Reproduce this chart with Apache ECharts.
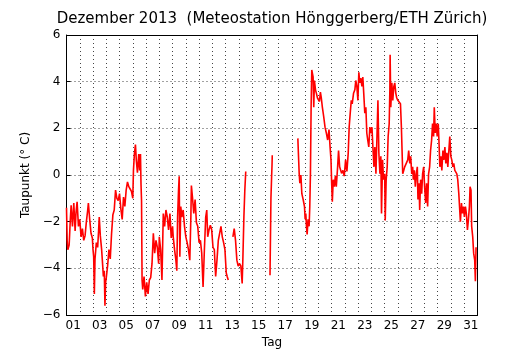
<!DOCTYPE html>
<html>
<head>
<meta charset="utf-8">
<script src="https://cdn.jsdelivr.net/npm/echarts@6/dist/echarts.min.js"></script>
<style>
  html, body { margin: 0; padding: 0; background: #fff; }
  #chart { width: 530px; height: 350px; }
</style>
</head>
<body>
<div id="chart"></div>
<script>
// Tage seit 1. Dezember 00:00 (Bruchteil = Tageszeit); null-Werte = Datenlücke
var tage = [
  0, 0.05, 0.1, 0.2, 0.28, 0.35, 0.45, 0.55, 0.65, 0.72, 0.8, 0.9,
  1.0, 1.1, 1.2, 1.3, 1.4, 1.5, 1.6, 1.65, 1.75, 1.85, 1.95,
  2.0, 2.05, 2.1, 2.15, 2.25, 2.35, 2.42, 2.47, 2.55, 2.65, 2.72, 2.78, 2.85, 2.9, 2.95,
  3.0, 3.1, 3.2, 3.3, 3.4, 3.5, 3.6, 3.7, 3.8, 3.9,
  4.0, 4.1, 4.2, 4.3, 4.4, 4.5, 4.6, 4.7, 4.8, 4.9,
  5.0, 5.05, 5.12, 5.2, 5.27, 5.35, 5.45, 5.52, 5.58, 5.62, 5.66, 5.7, 5.75, 5.85, 5.95,
  6.05, 6.15, 6.25, 6.35, 6.45, 6.55, 6.65, 6.75, 6.85, 6.95,
  7.0, 7.1, 7.2, 7.3, 7.4, 7.5, 7.6, 7.7, 7.8, 7.9,
  8.0, 8.05, 8.15, 8.25, 8.32, 8.38, 8.45, 8.5, 8.55, 8.62, 8.7, 8.8, 8.9,
  9.0, 9.1, 9.2, 9.3, 9.38, 9.42, 9.5, 9.6, 9.7, 9.8, 9.9,
  10.0, 10.1, 10.2, 10.3, 10.4, 10.5, 10.58, 10.65, 10.75, 10.85, 10.95,
  11.05, 11.15, 11.25, 11.35, 11.45, 11.55, 11.65, 11.75, 11.85, 11.95,
  12.05, 12.12, 12.2, 12.35,
  12.55, 12.65, 12.75, 12.85, 12.95, 13.05, 13.15, 13.25, 13.3, 13.38, 13.45, 13.52, 14.5,
  15.35, 15.42, 15.47, 15.5, 15.52, 16.5,
  17.45, 17.5, 17.55, 17.6, 17.68, 17.75, 17.85, 17.95,
  18.0, 18.05, 18.1, 18.15, 18.22, 18.3, 18.35, 18.4, 18.45, 18.5, 18.6, 18.65, 18.7, 18.78, 18.85, 18.93,
  19.0, 19.08, 19.15, 19.22, 19.3, 19.4, 19.5, 19.6, 19.7, 19.8, 19.88, 19.95,
  20.0, 20.05, 20.12, 20.2, 20.28, 20.35, 20.45, 20.52, 20.6, 20.68, 20.75, 20.85, 20.95,
  21.05, 21.15, 21.25, 21.32, 21.4, 21.48, 21.55, 21.65, 21.75, 21.82, 21.9, 21.98,
  22.05, 22.12, 22.2, 22.28, 22.35, 22.42, 22.5, 22.58, 22.65, 22.72, 22.8, 22.88, 22.96,
  23.04, 23.11, 23.19, 23.26, 23.34, 23.41, 23.49, 23.56, 23.64, 23.71, 23.76, 23.84, 23.91,
  24.0, 24.04, 24.11, 24.19, 24.26, 24.34, 24.39, 24.41, 24.46, 24.54, 24.61, 24.69, 24.76, 24.84, 24.91, 24.99,
  25.09, 25.19, 25.26, 25.31, 25.36, 25.44, 25.51, 25.59, 25.66, 25.74, 25.81, 25.89, 25.96,
  26.04, 26.11, 26.16, 26.24, 26.31, 26.39, 26.46, 26.51, 26.59, 26.64, 26.71, 26.79, 26.86, 26.94,
  27.01, 27.09, 27.16, 27.24, 27.31, 27.39, 27.46, 27.54, 27.61, 27.69, 27.74, 27.81, 27.89, 27.96,
  28.04, 28.09, 28.16, 28.24, 28.31, 28.39, 28.46, 28.54, 28.61, 28.69, 28.76, 28.84, 28.91, 28.99,
  29.06, 29.14, 29.21, 29.29, 29.36, 29.44, 29.51, 29.59, 29.66, 29.71, 29.79, 29.86, 29.94,
  30.01, 30.09, 30.16, 30.24, 30.31, 30.39, 30.44, 30.51, 30.56, 30.64, 30.71, 30.79, 30.84, 30.89
];

// Taupunkt in °C
var taupunkt = [
  -1.4, -2.8, -3.2, -3.0, -2.0, -1.3, -2.2, -1.2, -2.4, -1.6, -1.15, -2.2,
  -1.9, -2.65, -2.3, -2.8, -2.6, -2.0, -1.5, -1.2, -1.9, -2.5, -2.7,
  -3.2, -3.5, -5.1, -3.6, -2.9, -3.1, -2.4, -1.8, -2.6, -3.2, -3.8, -4.35, -4.1, -5.6, -4.6,
  -4.4, -3.9, -3.2, -3.6, -2.5, -1.7, -1.5, -0.65, -1.0, -1.1,
  -0.8, -1.45, -1.9, -0.95, -1.35, -0.65, -0.3, -0.5, -0.6, -0.7,
  -1.0, 0.2, 0.9, 1.3, 0.6, 0.1, 0.9, 0.2, 0.9, -0.4, -1.1, -4.5, -4.9, -4.35, -5.2,
  -4.6, -5.1, -4.5, -4.4, -3.8, -2.5, -3.35, -2.8, -3.1, -3.8,
  -2.65, -3.2, -4.5, -1.65, -2.2, -1.5, -1.8, -2.35, -1.65, -2.7,
  -2.2, -2.65, -3.2, -3.65, -4.1, -1.8, -0.65, -0.05, -3.5, -1.35, -1.8, -1.5, -2.2,
  -2.65, -2.9, -3.2, -3.65, -1.8, -0.45, -0.95, -1.65, -1.05, -2.05, -2.2,
  -2.9, -2.8, -3.35, -4.8, -3.2, -1.8, -1.5, -2.65, -2.35, -2.15, -2.35,
  -3.1, -3.2, -4.35, -3.65, -2.8, -2.5, -2.2, -2.65, -2.9, -3.2,
  -4.2, -4.35, -4.5, null,
  -2.65, -2.3, -2.8, -3.65, -3.9, -3.8, -3.9, -4.65, -3.65, -1.8, -0.65, 0.15, null,
  -4.3, -1.0, -0.1, 0.4, 0.85, null,
  1.57, 0.8, 0.07, -0.35, 0.0, -0.8, -1.05, -1.35,
  -1.9, -1.65, -2.2, -2.55, -1.9, -2.2, -1.35, 0.07, 2.9, 4.5, 4.2, 2.9, 4.05, 3.65, 3.5, 3.3,
  3.35, 3.15, 3.55, 3.3, 2.9, 2.5, 2.05, 1.8, 1.5, 1.95, 1.2, 0.65,
  -0.35, -1.15, -0.2, -0.5, -0.05, -0.5, 0.35, 1.05, 0.35, 0.4, 0.07, 0.2, -0.05,
  0.65, 0.15, 0.95, 2.05, 2.65, 3.2, 3.05, 3.5, 3.65, 4.05, 3.8, 3.2,
  4.4, 3.95, 4.15, 3.8, 4.2, 3.5, 2.65, 2.9, 1.8, 1.5, 1.2, 2.05, 1.8,
  2.05, 1.2, 0.35, 1.2, 0.05, 1.5, 3.2, 0.95, 0.05, 0.8, -1.65, 0.65, -0.2,
  0.05, -1.95, -0.2, 0.35, 1.65, 2.2, 3.65, 5.15, 2.9, 3.95, 3.2, 3.8, 3.95, 3.5, 3.3, 3.2,
  3.15, 3.05, 2.05, 1.05, 0.05, 0.2, 0.35, 0.3, 0.35, 0.65, 1.05, 0.5, 0.8,
  0.05, 0.35, -0.2, 0.2, -0.5, 0.05, 0.35, -1.05, -0.35, -1.5, -0.2, -0.8, 0.05, 0.35,
  -0.5, -1.2, -0.35, -1.35, 0.05, 0.35, 1.05, 1.5, 2.2, 1.65, 2.9, 1.8, 2.2, 1.65,
  2.2, 1.5, 0.35, 0.8, 0.2, 1.05, 0.65, 1.2, 0.5, 0.95, 0.35, 1.05, 1.65, 0.8,
  0.65, 0.35, 0.5, 0.2, 0.2, 0.05, -0.2, -0.8, -1.5, -2.0, -1.2, -1.65, -1.35,
  -1.8, -1.35, -1.65, -2.35, -1.95, -1.35, -0.5, -0.65, -2.2, -2.65, -3.35, -3.65, -4.55, -3.1
];

var tagLabels = ['01', '02', '03', '04', '05', '06', '07', '08', '09', '10',
  '11', '12', '13', '14', '15', '16', '17', '18', '19', '20',
  '21', '22', '23', '24', '25', '26', '27', '28', '29', '30', '31'];

var chart = echarts.init(document.getElementById('chart'), null, { renderer: 'canvas' });

var font = 'DejaVu Sans';
var gridStyle = { color: '#444', width: 1, type: [1, 3] };

var option = {
  backgroundColor: '#fff',
  animation: false,
  title: {
    text: 'Dezember 2013  (Meteostation Hönggerberg/ETH Zürich)',
    left: 272,
    top: 12,
    padding: 0,
    textAlign: 'center',
    textStyle: { fontFamily: font, fontSize: 15, fontWeight: 'normal', color: '#000' }
  },
  grid: { left: 66.5, right: 52.5, top: 35, bottom: 35, containLabel: false, outerBoundsMode: 'none' },
  xAxis: [
    {
      // Tage als Kategorien: Striche an den Tagesgrenzen, Beschriftung in der Tagesmitte
      type: 'category',
      position: 'bottom',
      data: tagLabels,
      boundaryGap: true,
      name: 'Tag',
      nameLocation: 'middle',
      nameGap: 20,
      nameTextStyle: { fontFamily: font, fontSize: 12, color: '#000' },
      axisLine: { onZero: false, lineStyle: { color: '#000', width: 1 } },
      axisTick: { inside: true, length: 4, interval: 0, lineStyle: { color: '#000' } },
      axisLabel: { interval: 1, margin: 5, fontFamily: font, fontSize: 12, color: '#000' },
      splitLine: { show: true, interval: 0, lineStyle: gridStyle }
    },
    {
      type: 'value',
      min: 0,
      max: 31,
      show: false
    },
    {
      type: 'category',
      position: 'top',
      data: tagLabels,
      boundaryGap: true,
      axisLine: { onZero: false, lineStyle: { color: '#000', width: 1 } },
      axisTick: { inside: true, length: 4, interval: 0, lineStyle: { color: '#000' } },
      axisLabel: { show: false },
      splitLine: { show: false }
    }
  ],
  yAxis: [
    {
      type: 'value',
      min: -6,
      max: 6,
      interval: 2,
      name: 'Taupunkt (° C)',
      nameLocation: 'middle',
      nameGap: 32,
      nameTextStyle: { fontFamily: font, fontSize: 12, color: '#000' },
      axisLine: { show: true, onZero: false, lineStyle: { color: '#000', width: 1 } },
      axisTick: { show: true, inside: true, length: 4, lineStyle: { color: '#000' } },
      axisLabel: {
        margin: 6, fontFamily: font, fontSize: 12, color: '#000',
        formatter: function (v) { return String(v).replace('-', '\u2212'); }
      },
      splitLine: { show: true, lineStyle: gridStyle }
    },
    {
      type: 'value',
      min: -6,
      max: 6,
      interval: 2,
      position: 'right',
      axisLine: { show: true, onZero: false, lineStyle: { color: '#000', width: 1 } },
      axisTick: { show: true, inside: true, length: 4, lineStyle: { color: '#000' } },
      axisLabel: { show: false },
      splitLine: { show: false }
    }
  ],
  series: [
    {
      type: 'line',
      xAxisIndex: 1,
      yAxisIndex: 0,
      data: tage.map(function (t, i) { return [t, taupunkt[i]]; }),
      showSymbol: false,
      connectNulls: false,
      lineStyle: { color: '#ff0000', width: 1.6 },
      z: 3
    }
  ]
};

chart.setOption(option);
</script>
</body>
</html>
